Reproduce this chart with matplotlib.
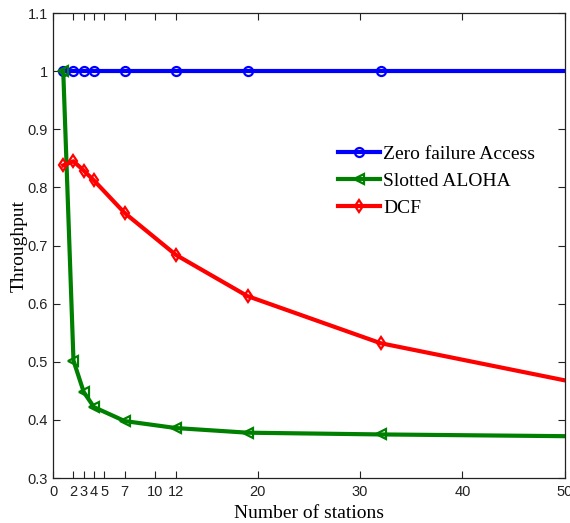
import matplotlib
matplotlib.use("Agg")
import matplotlib.pyplot as plt

stations = [1, 2, 3, 4, 7, 12, 19, 32, 50]
zero_failure = [1.0, 1.0, 1.0, 1.0, 1.0, 1.0, 1.0, 1.0, 1.0]
slotted_aloha = [1.0, 0.502, 0.448, 0.422, 0.398, 0.386, 0.378, 0.375, 0.372]
dcf = [0.838, 0.845, 0.829, 0.812, 0.756, 0.684, 0.613, 0.532, 0.468]

xticks = [0, 2, 3, 4, 5, 7, 10, 12, 20, 30, 40, 50]
yticks = [0.3, 0.4, 0.5, 0.6, 0.7, 0.8, 0.9, 1.0, 1.1]
ytick_labels = ["0.3", "0.4", "0.5", "0.6", "0.7", "0.8", "0.9", "1", "1.1"]

fig = plt.figure(figsize=(5.70, 5.23), dpi=100)
ax = fig.add_axes([0.093, 0.086, 0.898, 0.889])

n_marked = 8  # the last point (x=50) carries no marker
common = dict(linewidth=3.0, markersize=6.5, markeredgewidth=1.6,
              markerfacecolor="none", markevery=list(range(n_marked)))
ax.plot(stations, zero_failure, color="#0000ff", marker="o",
        label="Zero failure Access", **common)
ax.plot(stations, slotted_aloha, color="#008000", marker="<",
        label="Slotted ALOHA", **common)
ax.plot(stations, dcf, color="#ff0000", marker="d",
        label="DCF", **common)

ax.set_xlim(0, 50)
ax.set_ylim(0.3, 1.1)
ax.set_xticks(xticks)
ax.set_xticklabels([str(t) for t in xticks])
ax.set_yticks(yticks)
ax.set_yticklabels(ytick_labels)
ax.tick_params(direction="in", top=True, right=True, length=5, width=0.8,
               labelsize=10.5, colors="#222222")
ax.tick_params(axis="x", pad=5)
for lab in ax.get_xticklabels() + ax.get_yticklabels():
    lab.set_fontfamily("Liberation Sans")
for sp in ax.spines.values():
    sp.set_linewidth(0.9)
    sp.set_color("#222222")

serif = "Liberation Serif"
ax.set_xlabel("Number of stations", fontsize=14, fontfamily=serif, labelpad=4)
ax.set_ylabel("Throughput", fontsize=14, fontfamily=serif, labelpad=0)

leg = ax.legend(loc="upper left", bbox_to_anchor=(0.541, 0.732), frameon=False,
                prop={"family": serif, "size": 14}, handlelength=2.2,
                handletextpad=0.15, labelspacing=0.48, borderaxespad=0)

fig.savefig("out.png", dpi=100)
